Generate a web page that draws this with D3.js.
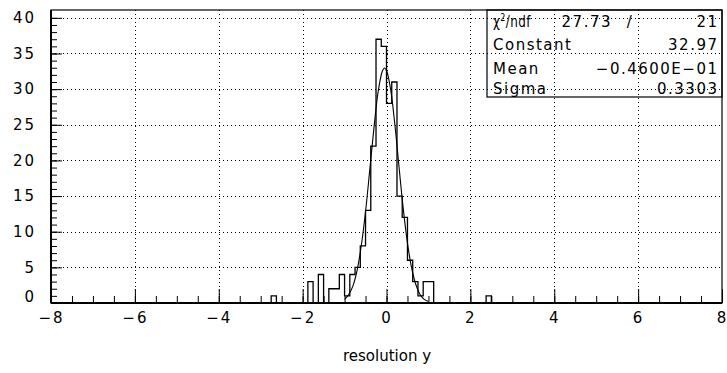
<!DOCTYPE html>
<html>
<head>
<meta charset="utf-8">
<script src="https://cdnjs.cloudflare.com/ajax/libs/d3/7.8.5/d3.min.js"></script>
<style>
  body { margin: 0; background: #fff; }
  svg { display: block; }
  text { font-family: "DejaVu Sans", "Liberation Sans", sans-serif; font-size: 15px; fill: #000; }
  .axis text { letter-spacing: 2px; }
  .stats text { letter-spacing: 1.5px; }
  .axis path.domain { display: none; }
  .axis line { stroke: #000; stroke-width: 1; }
  .grid { stroke: #000; stroke-width: 1; stroke-dasharray: 1,3; }
</style>
</head>
<body>
<div class="svg-container"></div>
<script>
var width = 727;
var height = 373;

// histogram, bins of 0.125 from -8 to 8: left edge of every filled bin and its entries
var binWidth = 0.125;
var binLeft = [-2.75, -1.875, -1.625, -1.375, -1.25, -1.125, -1.0, -0.875, -0.75, -0.625,
               -0.5, -0.375, -0.25, -0.125, 0, 0.125, 0.25, 0.375, 0.5, 0.625,
               0.75, 0.875, 1.0, 2.375];
var binCount = [1, 3, 4, 2, 2, 4, 1, 4, 5, 8,
                13, 22, 37, 36, 28, 31, 15, 12, 6, 3,
                1, 3, 3, 1];

// fitted gaussian as drawn over the histogram
var fitX = [-1.0, -0.9, -0.8, -0.7, -0.6, -0.5, -0.4, -0.3, -0.2, -0.1, -0.05,
            0.0, 0.1, 0.2, 0.3, 0.4, 0.5, 0.6, 0.7, 0.8, 0.9, 1.0];
var fitY = [0.5, 1.2, 2.4, 4.6, 8.1, 12.8, 18.6, 24.5, 29.6, 32.5, 32.97,
            32.6, 29.9, 25.0, 19.0, 13.2, 8.4, 4.9, 2.6, 1.2, 0.5, 0.2];

var xTicks = [-8, -6, -4, -2, 0, 2, 4, 6, 8];
var yTicks = [0, 5, 10, 15, 20, 25, 30, 35, 40];

var statNames = ["Constant", "Mean", "Sigma"];
var statValues = ["32.97", "\u22120.4600E\u221201", "0.3303"];
var chi2 = "27.73";
var ndf = "21";

var padding = { "top": 10, "right": 5, "bottom": 70, "left": 51 };

var svg = d3.select(".svg-container")
              .append("svg")
              .attr("width", width)
              .attr("height", height);

var scaleX = d3.scaleLinear()
            .domain([-8, 8])
            .range([padding.left, width - padding.right]);

var scaleY = d3.scaleLinear()
            .domain([0, 41.1])
            .range([height - padding.bottom, padding.top]);

drawGrid();
drawAxes();
drawHist();
drawFit();
drawFrame();
drawStats();
xLabel();

function drawGrid() {
    svg.selectAll(".vgrid")
        .data(xTicks.slice(1, -1))
        .enter()
        .append("line")
        .attr("class", "grid")
        .attr("x1", function(d) { return Math.round(scaleX(d)) + 0.5; })
        .attr("x2", function(d) { return Math.round(scaleX(d)) + 0.5; })
        .attr("y1", scaleY(0))
        .attr("y2", scaleY(41.1));

    svg.selectAll(".hgrid")
        .data(yTicks.slice(1))
        .enter()
        .append("line")
        .attr("class", "grid")
        .attr("x1", scaleX(-8))
        .attr("x2", scaleX(8))
        .attr("y1", function(d) { return Math.round(scaleY(d)) + 0.5; })
        .attr("y2", function(d) { return Math.round(scaleY(d)) + 0.5; });
}

function drawAxes() {
    var fmt = d3.format("d");
    var base = scaleY(0);

    // minor ticks every 0.5 on x, every 1 on y
    svg.append("g")
        .attr("class", "axis")
        .attr("transform", "translate(0," + base + ")")
        .call(d3.axisBottom(scaleX).tickValues(d3.range(-8, 8.01, 0.5)).tickSize(-7).tickFormat(""));

    svg.append("g")
        .attr("class", "axis")
        .attr("transform", "translate(0," + base + ")")
        .call(d3.axisBottom(scaleX).tickValues(xTicks).tickSize(-14).tickPadding(9).tickFormat(fmt));

    svg.append("g")
        .attr("class", "axis")
        .attr("transform", "translate(" + scaleX(-8) + ",0)")
        .call(d3.axisLeft(scaleY).tickValues(d3.range(0, 41, 1)).tickSize(-6).tickFormat(""));

    var yAxis = svg.append("g")
        .attr("class", "axis")
        .attr("transform", "translate(" + scaleX(-8) + ",0)")
        .call(d3.axisLeft(scaleY).tickValues(yTicks).tickSize(-11).tickPadding(15).tickFormat(fmt));

    // zero label sits a little higher, as in the original
    yAxis.selectAll(".tick text")
        .filter(function(d) { return d === 0; })
        .attr("dy", "-0.08em");
}

function drawHist() {
    var lookup = {};
    binLeft.forEach(function(d, i) { lookup[d.toFixed(3)] = binCount[i]; });

    var bins = d3.range(0, 128).map(function(i) {
        var left = -8 + i * binWidth;
        return { x: left, c: lookup[left.toFixed(3)] || 0 };
    });
    bins.push({ x: 8, c: 0 });

    var line = d3.line()
        .x(function(d) { return scaleX(d.x); })
        .y(function(d) { return scaleY(d.c); })
        .curve(d3.curveStepAfter);

    svg.append("path")
        .datum(bins)
        .attr("fill", "none")
        .attr("stroke", "#000")
        .attr("stroke-width", 1.3)
        .attr("d", line);
}

function drawFit() {
    var pts = fitX.map(function(d, i) { return [d, fitY[i]]; });

    var line = d3.line()
        .x(function(d) { return scaleX(d[0]); })
        .y(function(d) { return scaleY(d[1]); })
        .curve(d3.curveCatmullRom);

    svg.append("path")
        .datum(pts)
        .attr("fill", "none")
        .attr("stroke", "#000")
        .attr("stroke-width", 1.1)
        .attr("d", line);
}

function drawFrame() {
    svg.append("rect")
        .attr("x", scaleX(-8))
        .attr("y", scaleY(41.1))
        .attr("width", scaleX(8) - scaleX(-8))
        .attr("height", scaleY(0) - scaleY(41.1))
        .attr("fill", "none")
        .attr("stroke", "#000")
        .attr("stroke-width", 1.2);

    // heavier left and bottom axis lines
    svg.append("line")
        .attr("x1", scaleX(-8)).attr("x2", scaleX(-8))
        .attr("y1", scaleY(41.1)).attr("y2", scaleY(0))
        .attr("stroke", "#000").attr("stroke-width", 2);
    svg.append("line")
        .attr("x1", scaleX(-8)).attr("x2", scaleX(8))
        .attr("y1", scaleY(0)).attr("y2", scaleY(0))
        .attr("stroke", "#000").attr("stroke-width", 2);
}

function drawStats() {
    var g = svg.append("g").attr("class", "stats");
    var left = 487, right = scaleX(8), top = scaleY(41.1), bottom = 97;
    var rowY = [27.3, 50, 74, 94];

    g.append("rect")
        .attr("x", left)
        .attr("y", top)
        .attr("width", right - left)
        .attr("height", bottom - top)
        .attr("fill", "none")
        .attr("stroke", "#000")
        .attr("stroke-width", 1.2);

    // chi2/ndf label is set tighter than the other rows
    var chiText = g.append("text")
        .attr("transform", "translate(493," + rowY[0] + ") scale(0.8,1)")
        .style("letter-spacing", "0.5px");
    chiText.append("tspan").text("\u03c7");
    chiText.append("tspan").attr("font-size", "10px").attr("dy", -6).text("2");
    chiText.append("tspan").attr("dy", 6).text("/ndf");

    g.append("text").attr("x", 612).attr("y", rowY[0]).attr("text-anchor", "end").text(chi2);
    g.append("text").attr("x", 630).attr("y", rowY[0]).attr("text-anchor", "middle").text("/");
    g.append("text").attr("x", 718.5).attr("y", rowY[0]).attr("text-anchor", "end").text(ndf);

    g.selectAll(".sname")
        .data(statNames)
        .enter()
        .append("text")
        .attr("x", 493)
        .attr("y", function(d, i) { return rowY[i + 1]; })
        .text(function(d) { return d; });

    g.selectAll(".sval")
        .data(statValues)
        .enter()
        .append("text")
        .attr("x", 718.5)
        .attr("y", function(d, i) { return rowY[i + 1]; })
        .attr("text-anchor", "end")
        .text(function(d) { return d; });
}

function xLabel() {
    svg.append("text")
        .attr("x", 387)
        .attr("y", 361)
        .attr("text-anchor", "middle")
        .attr("font-size", "14px")
        .text("resolution y");
}
</script>
</body>
</html>
